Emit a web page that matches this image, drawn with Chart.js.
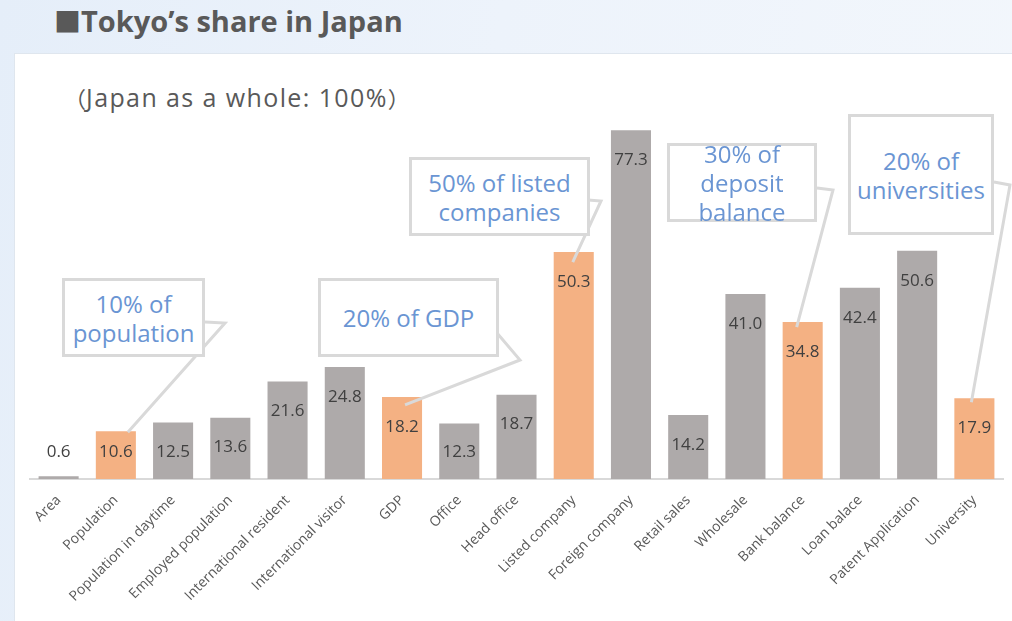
<!DOCTYPE html>
<html>
<head>
<meta charset="utf-8">
<script src="https://cdn.jsdelivr.net/npm/chart.js@4/dist/chart.umd.min.js"></script>
<style>
html,body{margin:0;padding:0;}
body{width:1012px;height:621px;overflow:hidden;position:relative;
  background:linear-gradient(100deg,#e5eef9 0%,#edf3fb 45%,#f3f7fc 100%);
  font-family:"Open Sans","Noto Sans",sans-serif;}
#panel{position:absolute;left:14px;top:53px;width:998px;height:568px;background:#fff;
  border-top:1px solid #dfe6ee;border-left:1px solid #dfe6ee;box-sizing:border-box;}
#title{position:absolute;left:54px;top:2px;font-size:29px;font-weight:700;color:#595959;
  line-height:38px;white-space:nowrap;}
#title .sq{font-family:"Noto Sans CJK JP",sans-serif;font-weight:400;font-size:27px;}
#sub{position:absolute;left:64px;top:81px;font-size:25px;color:#595959;line-height:32px;
  white-space:nowrap;letter-spacing:1.4px;}
#sub .fw{font-family:"Noto Sans CJK JP",sans-serif;font-size:22px;letter-spacing:0;}
#c{position:absolute;left:0;top:0;}
.call{position:absolute;box-sizing:border-box;border:3px solid #d9d9d9;background:#fff;
  display:flex;align-items:center;justify-content:center;text-align:center;
  color:#6a95d3;font-size:24px;line-height:29px;white-space:nowrap;font-weight:500;}
</style>
</head>
<body>
<div id="panel"></div>
<div id="title"><span class="sq">■</span>Tokyo’s share in Japan</div>
<div id="sub"><span class="fw">（</span>Japan as a whole: 100%<span class="fw">）</span></div>
<canvas id="c" width="1012" height="621"></canvas>
<div class="call" style="left:62px;top:278px;width:143px;height:79px;">10% of<br>population</div>
<div class="call" style="left:318px;top:278px;width:181px;height:79px;">20% of GDP</div>
<div class="call" style="left:409px;top:157px;width:181px;height:79px;">50% of listed<br>companies</div>
<div class="call" style="left:667px;top:143px;width:150px;height:79px;">30% of<br>deposit<br>balance</div>
<div class="call" style="left:848px;top:114px;width:146px;height:121px;">20% of<br>universities</div>
<script>
const categories = ["Area","Population","Population in daytime","Employed population",
  "International resident","International visitor","GDP","Office","Head office",
  "Listed company","Foreign company","Retail sales","Wholesale","Bank balance",
  "Loan balace","Patent Application","University"];
const shares = [0.6,10.6,12.5,13.6,21.6,24.8,18.2,12.3,18.7,50.3,77.3,14.2,41.0,34.8,42.4,50.6,17.9];
const highlighted = [0,1,0,0,0,0,1,0,0,1,0,0,0,1,0,0,1];

const GREY = "#aeaaaa", ORANGE = "#f4b183";
const barColors = highlighted.map(h => h ? ORANGE : GREY);

// leader lines: box anchor, knee, then end point relative to target bar top
const leaders = [
  {idx:1,  from:[205,322], knee:[225,323], dx:12, dy:1},
  {idx:6,  from:[497,333], knee:[520,360], dx:3,  dy:8},
  {idx:9,  from:[588,200], knee:[601,201], dx:-1, dy:10},
  {idx:13, from:[817,188], knee:[833,190], dx:-6, dy:5},
  {idx:16, from:[994,182], knee:[1010,185], dx:-3, dy:4}
];

const labelPlugin = {
  id:"valueLabels",
  afterDatasetsDraw(chart){
    const ctx = chart.ctx;
    const meta = chart.getDatasetMeta(0);
    ctx.save();
    ctx.font = '17px "Open Sans","Noto Sans",sans-serif';
    ctx.fillStyle = "#404040";
    ctx.textAlign = "center";
    ctx.textBaseline = "middle";
    meta.data.forEach((bar,i)=>{
      const y = Math.min(bar.y + 30, bar.base - 27);
      ctx.fillText(shares[i].toFixed(1), bar.x, y);
    });
    ctx.restore();
  }
};

const leaderPlugin = {
  id:"leaders",
  afterDraw(chart){
    const ctx = chart.ctx;
    const meta = chart.getDatasetMeta(0);
    ctx.save();
    ctx.strokeStyle = "#d9d9d9";
    ctx.lineWidth = 3;
    ctx.lineJoin = "miter";
    leaders.forEach(l=>{
      const bar = meta.data[l.idx];
      ctx.beginPath();
      ctx.moveTo(l.from[0], l.from[1]);
      ctx.lineTo(l.knee[0], l.knee[1]);
      ctx.lineTo(bar.x + l.dx, bar.y + l.dy);
      ctx.stroke();
    });
    ctx.restore();
  }
};

new Chart(document.getElementById("c"), {
  type:"bar",
  data:{
    labels:categories,
    datasets:[{data:shares, backgroundColor:barColors, borderWidth:0,
      barPercentage:0.7, categoryPercentage:1.0}]
  },
  options:{
    responsive:false,
    animation:false,
    events:[],
    layout:{padding:{left:30,right:9,top:73,bottom:0}},
    plugins:{legend:{display:false},tooltip:{enabled:false},title:{display:false}},
    scales:{
      x:{
        grid:{display:false},
        border:{display:true,color:"#d9d9d9",width:2},
        ticks:{autoSkip:false,minRotation:45,maxRotation:45,padding:5,color:"#595959",
          font:{family:'"Open Sans","Noto Sans",sans-serif',size:14}},
        afterFit(s){ s.height = 142; }
      },
      y:{display:false,min:0,max:90}
    }
  },
  plugins:[labelPlugin, leaderPlugin]
});
</script>
</body>
</html>
